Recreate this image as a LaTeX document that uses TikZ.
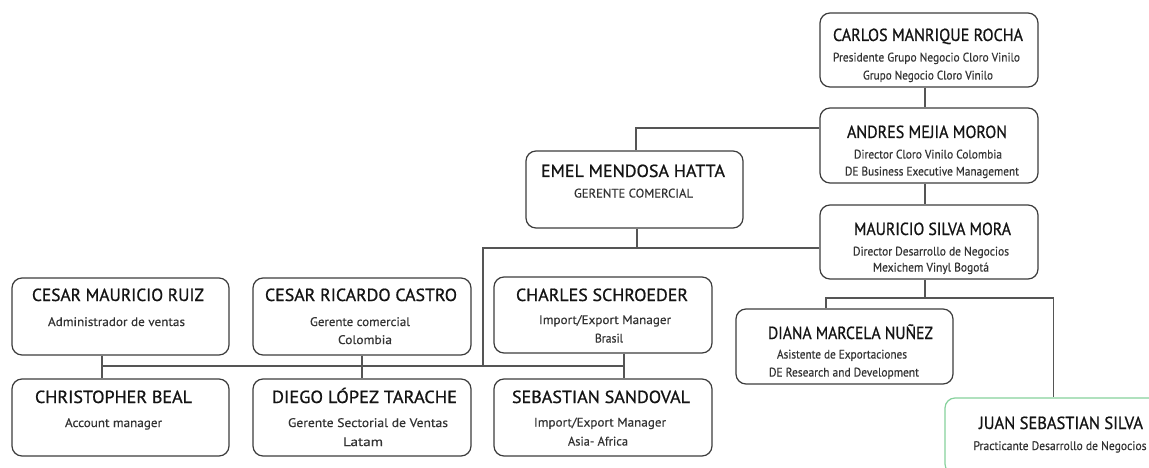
\documentclass[tikz,border=0pt]{standalone}
\usepackage{fontspec}
\setmainfont{PT Sans}
\newfontfamily\ttlfont{PT Sans}[FakeBold=0.9]
\newfontfamily\subfont{PT Sans}[FakeBold=0.35]
\usepackage{graphicx}
\definecolor{boxgray}{HTML}{3C3C3C}
\definecolor{linegray}{HTML}{555555}
\definecolor{juangreen}{HTML}{86D19C}
\definecolor{ttlcol}{HTML}{141414}
\definecolor{subcol}{HTML}{333333}
\newcommand\fitto[2]{\resizebox{#1pt}{\height}{#2}}
\newcommand\tline[5]{\node[#1] (#2) at (#3) {\fitto{#4}{#5}};}
\tikzset{
  pbox/.style={draw=boxgray, line width=1.2pt, rounded corners=10pt, inner sep=0pt, fill=white},
  ttl/.style={anchor=base, inner sep=0pt, text=ttlcol, font=\ttlfont\fontsize{17.5}{20}\selectfont},
  sub/.style={anchor=base, inner sep=0pt, text=subcol, font=\subfont\fontsize{12.4}{14}\selectfont},
  conn/.style={draw=linegray, line width=1.2pt}
}
\begin{document}
\begin{tikzpicture}[x=1pt,y=-1pt]
\useasboundingbox (0,0) rectangle (1149,468);
\fill[white] (0,0) rectangle (1149,468);
\clip (0,0) rectangle (1149,468);

% junction coordinates
\coordinate (j1) at (483,248);
\coordinate (j2) at (483,366);
\coordinate (j3) at (925,298);

% boxes
\node[pbox, minimum width=218pt, minimum height=74pt] (carlos) at (929,50) {};
\node[pbox, minimum width=218pt, minimum height=75pt] (andres) at (929,145.5) {};
\node[pbox, minimum width=218pt, minimum height=74pt] (mauricio) at (929,242) {};
\node[pbox, minimum width=217pt, minimum height=77pt] (emel) at (634.5,189.5) {};
\node[pbox, minimum width=217pt, minimum height=77pt] (ruiz) at (120.5,316.5) {};
\node[pbox, minimum width=218pt, minimum height=77pt] (ricardo) at (362,316.5) {};
\node[pbox, minimum width=218pt, minimum height=76pt] (charles) at (603,315) {};
\node[pbox, minimum width=217pt, minimum height=77pt] (christopher) at (120.5,417.5) {};
\node[pbox, minimum width=218pt, minimum height=77pt] (diego) at (362,417.5) {};
\node[pbox, minimum width=218pt, minimum height=77pt] (sebastian) at (603,417.5) {};
\node[pbox, minimum width=217pt, minimum height=75pt] (diana) at (844.5,346.5) {};
\node[pbox, draw=juangreen, minimum width=220pt, minimum height=76pt] (juan) at (1055,436) {};

% connectors
\draw[conn] ([xshift=-4pt]carlos.south) -- ([xshift=-4pt]andres.north);
\draw[conn] ([xshift=-4pt]andres.south) -- ([xshift=-4pt]mauricio.north);
\draw[conn] ([yshift=17.5pt]andres.west) -| ([xshift=1.5pt]emel.north);
\draw[conn] ([xshift=2.5pt]emel.south) -- ([xshift=2.5pt]emel.south |- j1);
\draw[conn] ([yshift=-6pt]mauricio.west) -- (j1) -- (j2);
\draw[conn] ([xshift=-18.5pt]ruiz.south) -- ([xshift=-18.5pt]christopher.north);
\draw[conn] (ricardo.south) -- (diego.north);
\draw[conn] ([xshift=21pt]charles.south) -- ([xshift=21pt]sebastian.north);
\draw[conn] ([xshift=-18.5pt]ruiz.south |- j2) -- ([xshift=21pt]charles.south |- j2);
\draw[conn] ([xshift=-4pt]mauricio.south) -- (j3);
\draw[conn] ([xshift=-18.5pt]diana.north) |- (j3) -| ([xshift=-1.5pt]juan.north);

% texts
\tline{ttl}{carlos-1}{928,41}{190}{CARLOS MANRIQUE ROCHA}
\tline{sub}{carlos-2}{926.5,61.5}{187}{Presidente Grupo Negocio Cloro Vinilo}
\tline{sub}{carlos-3}{928,79.5}{130}{Grupo Negocio Cloro Vinilo}

\tline{ttl}{andres-1}{927,138}{160}{ANDRES MEJIA MORON}
\tline{sub}{andres-2}{928,158.5}{148}{Director Cloro Vinilo Colombia}
\tline{sub}{andres-3}{932,175.5}{174}{DE Business Executive Management}

\tline{ttl}{mauricio-1}{932.5,235}{157}{MAURICIO SILVA MORA}
\tline{sub}{mauricio-2}{931,255.5}{156}{Director Desarrollo de Negocios}
\tline{sub}{mauricio-3}{931,271.5}{116}{Mexichem Vinyl Bogotá}

\tline{ttl}{emel-1}{633,177}{184}{EMEL MENDOSA HATTA}
\tline{sub}{emel-2}{633.5,197.5}{119}{GERENTE COMERCIAL}

\tline{ttl}{ruiz-1}{118,301}{172}{CESAR MAURICIO RUIZ}
\tline{sub}{ruiz-2}{116.5,326}{137}{Administrador de ventas}

\tline{ttl}{ricardo-1}{361,301}{192}{CESAR RICARDO CASTRO}
\tline{sub}{ricardo-2}{360,326}{100}{Gerente comercial}
\tline{sub}{ricardo-3}{365,344}{54}{Colombia}

\tline{ttl}{charles-1}{602,301}{172}{CHARLES SCHROEDER}
\tline{sub}{charles-2}{605,324}{132}{Import/Export Manager}
\tline{sub}{charles-3}{609,342.5}{28}{Brasil}

\tline{ttl}{christopher-1}{113.5,403}{157}{CHRISTOPHER BEAL}
\tline{sub}{christopher-2}{113.5,427}{97}{Account manager}

\tline{ttl}{diego-1}{364.5,403}{185}{DIEGO LÓPEZ TARACHE}
\tline{sub}{diego-2}{368,427}{160}{Gerente Sectorial de Ventas}
\tline{sub}{diego-3}{363,446}{40}{Latam}

\tline{ttl}{sebastian-1}{601,403}{178}{SEBASTIAN SANDOVAL}
\tline{sub}{sebastian-2}{600,426.5}{132}{Import/Export Manager}
\tline{sub}{sebastian-3}{598,445.5}{60}{Asia- Africa}

\tline{ttl}{diana-1}{850.5,339}{165}{DIANA MARCELA NUÑEZ}
\tline{sub}{diana-2}{842,358.5}{130}{Asistente de Exportaciones}
\tline{sub}{diana-3}{844,376.5}{150}{DE Research and Development}

\tline{ttl}{juan-1}{1061,429}{164}{JUAN SEBASTIAN SILVA}
\tline{sub}{juan-2}{1060,450}{173}{Practicante Desarrollo de Negocios}
\end{tikzpicture}
\end{document}
